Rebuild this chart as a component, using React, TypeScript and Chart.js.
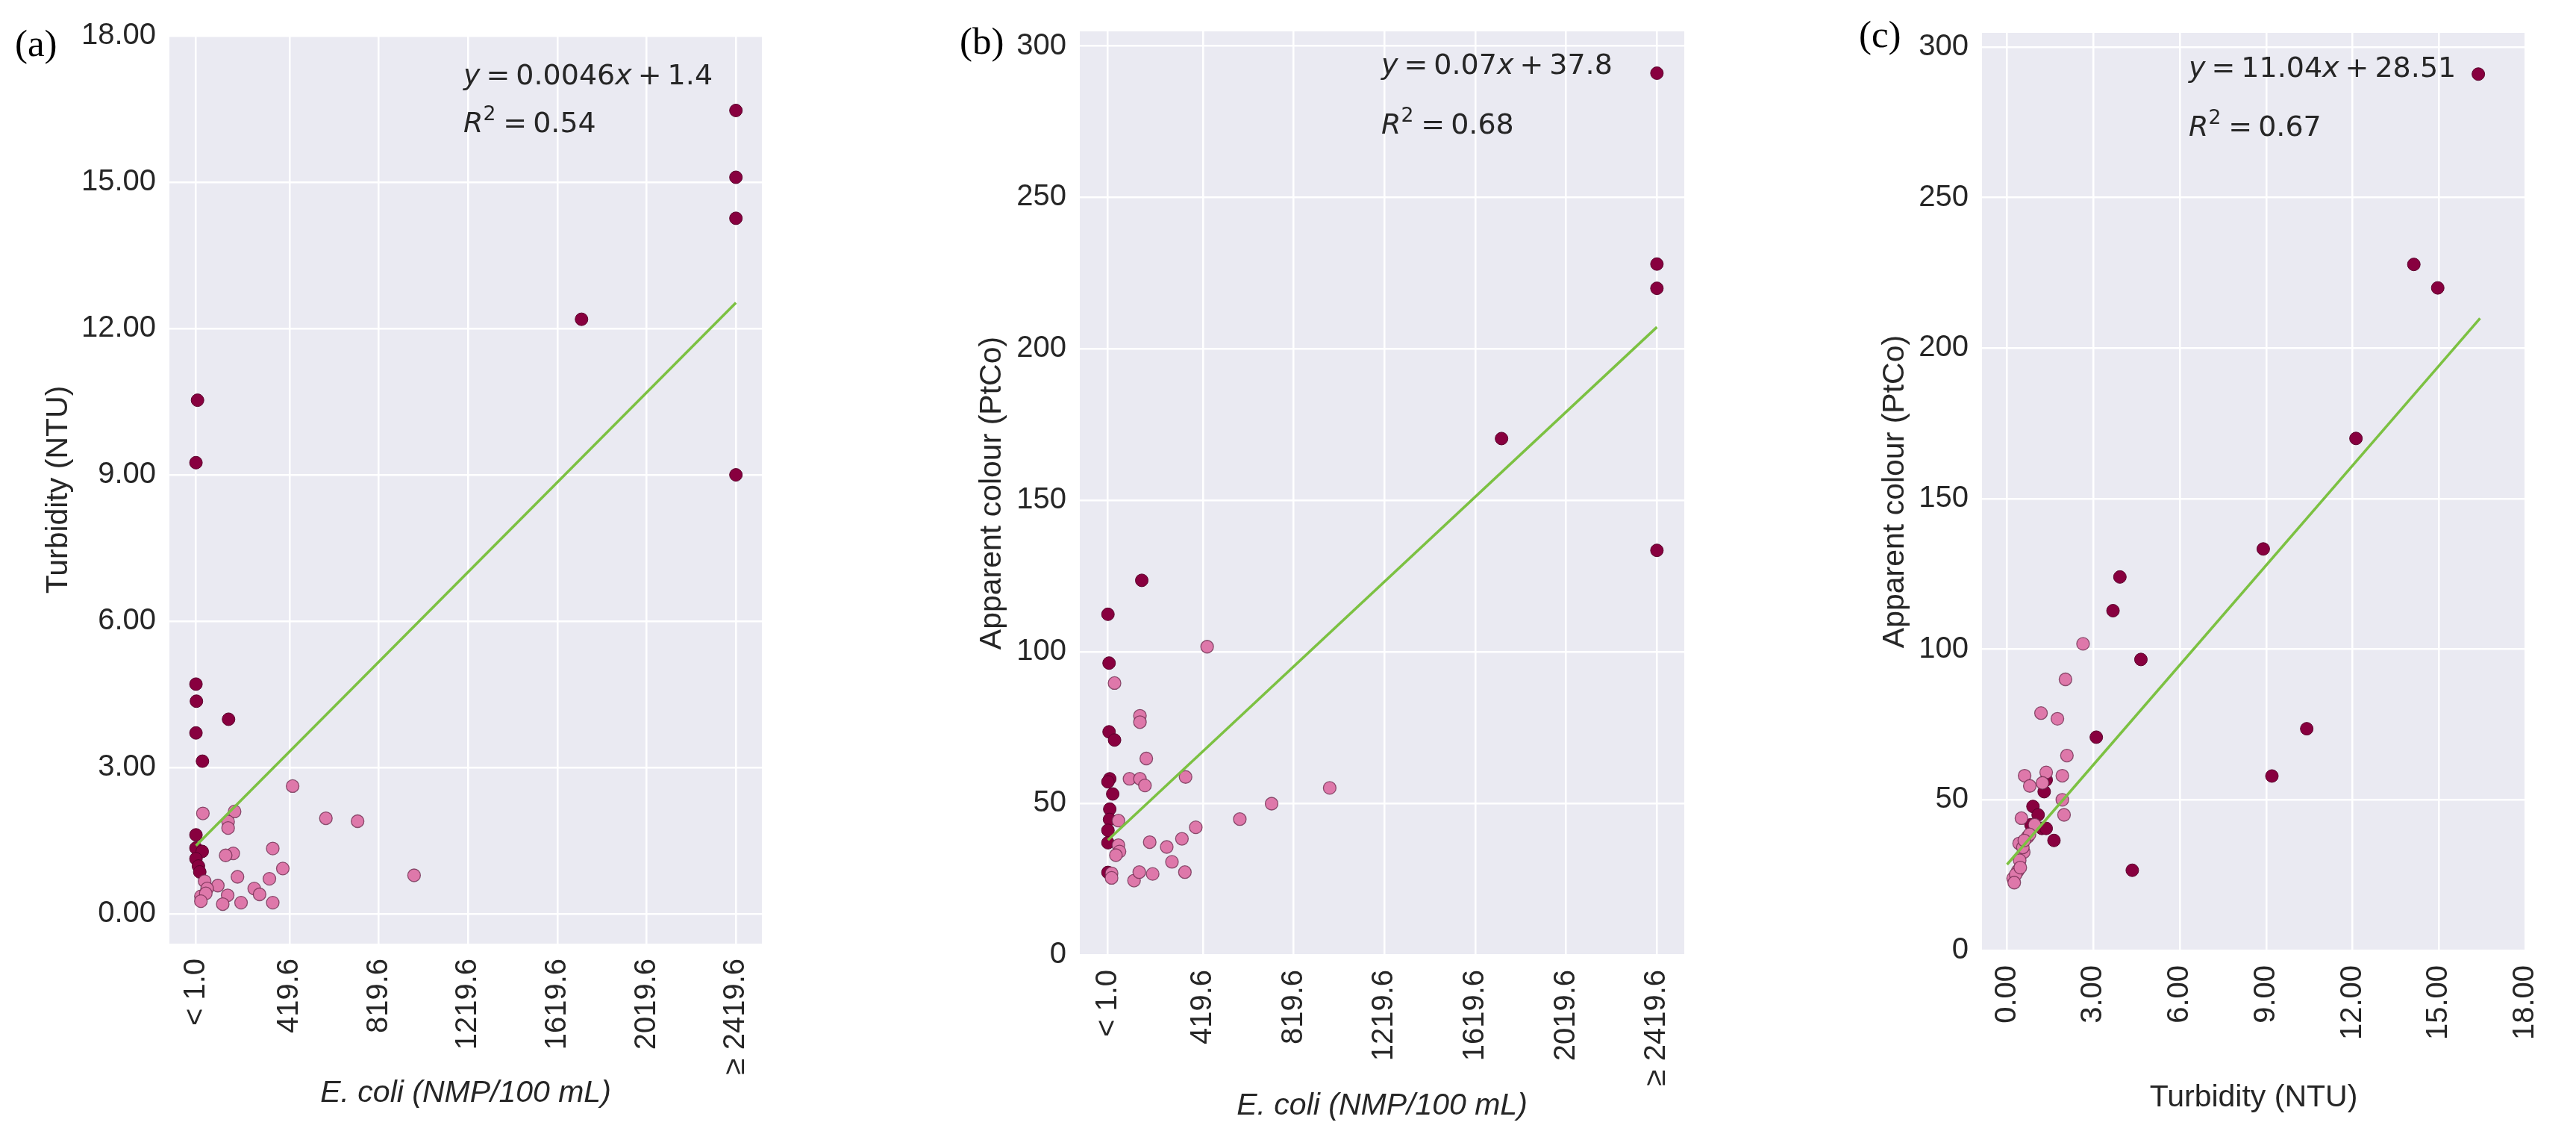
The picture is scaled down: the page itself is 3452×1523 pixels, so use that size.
import React, { useEffect, useRef } from 'react';
import { Chart, registerables } from 'chart.js';

Chart.register(...registerables);

// ---------------- data ----------------
const ECOLI_TICKS = [1, 419.6, 819.6, 1219.6, 1619.6, 2019.6, 2419.6];
const ECOLI_LABELS = ['< 1.0', '419.6', '819.6', '1219.6', '1619.6', '2019.6', '≥ 2419.6'];
const TURB_TICKS = [0, 3, 6, 9, 12, 15, 18];
const TURB_LABELS = ['0.00', '3.00', '6.00', '9.00', '12.00', '15.00', '18.00'];
const COLOUR_TICKS = [0, 50, 100, 150, 200, 250, 300];
const COLOUR_LABELS = ['0', '50', '100', '150', '200', '250', '300'];

// (a) E. coli vs Turbidity
const aDarkX = [8, 1, 1, 3, 1, 30, 147, 1728, 2419.6, 2419.6, 2419.6, 2419.6, 1, 1, 29, 1, 12, 18];
const aDarkY = [10.53, 9.25, 4.71, 4.36, 3.71, 3.13, 3.99, 12.19, 16.47, 15.1, 14.26, 9.0, 1.62, 1.35, 1.28, 1.13, 0.98, 0.86];
const aPinkX = [434, 32, 174, 145, 145, 583, 725, 345, 168, 134, 390, 978, 187, 330, 40, 99, 51, 262, 286, 143, 23, 45, 23, 121, 203, 345];
const aPinkY = [2.62, 2.06, 2.1, 1.89, 1.76, 1.96, 1.9, 1.34, 1.24, 1.2, 0.93, 0.79, 0.76, 0.72, 0.67, 0.58, 0.52, 0.52, 0.4, 0.38, 0.36, 0.42, 0.26, 0.2, 0.23, 0.23];
const aFitX = [1, 2419.6];
const aFitY = [1.4, 12.53];

// (b) E. coli vs Apparent colour
const bDarkX = [150, 1, 6, 6, 30, 9, 1, 22, 9, 8, 1, 1, 1, 1735, 2419.6, 2419.6, 2419.6, 2419.6];
const bDarkY = [123.6, 112.4, 96.3, 73.6, 70.9, 58.1, 57.1, 53.1, 48.1, 44.7, 41.1, 37.0, 27.2, 170.4, 291, 228, 220, 133.5];
const bPinkX = [438, 30, 142, 142, 170, 96, 142, 164, 343, 978, 722, 582, 47, 388, 327, 185, 260, 47, 52, 36, 283, 17, 17, 116, 139, 198, 340];
const bPinkY = [101.7, 89.7, 78.9, 76.8, 64.8, 58.1, 58.1, 55.9, 58.7, 55.1, 49.9, 44.8, 44.3, 42.1, 38.3, 37.2, 35.6, 36.2, 34.1, 32.9, 30.7, 26.9, 25.4, 24.5, 27.3, 26.7, 27.3];
const bFitX = [1, 2419.6];
const bFitY = [37.9, 207.2];

// (c) Turbidity vs Apparent colour
const cDarkX = [16.37, 14.13, 14.96, 12.12, 8.9, 10.41, 9.2, 4.65, 4.35, 3.68, 3.92, 3.1, 1.36, 1.29, 0.9, 1.08, 0.83, 1.21, 1.36, 1.63];
const cDarkY = [291, 227.8, 220, 170, 133.3, 73.6, 57.9, 96.6, 26.6, 112.8, 124, 70.8, 56.6, 52.7, 47.8, 45.0, 41.7, 40.5, 40.5, 36.5];
const cPinkX = [2.64, 2.03, 1.18, 1.75, 2.08, 0.61, 1.36, 1.92, 0.79, 1.23, 1.92, 1.98, 0.5, 0.96, 0.71, 0.42, 0.58, 0.44, 0.375, 0.21, 0.3, 0.46, 0.55, 0.78, 0.6, 0.25];
const cPinkY = [101.8, 90.0, 78.8, 76.9, 64.7, 58.0, 59.1, 58.0, 54.6, 55.6, 50.0, 45.0, 43.9, 41.7, 37.6, 35.5, 32.6, 29.9, 26.4, 23.9, 25.2, 27.5, 34.2, 38.5, 36.5, 22.5];
const cFitX = [0, 16.43];
const cFitY = [28.51, 209.9];

const aEq = { slope: '0.0046', intercept: '1.4', r2: '0.54' };
const bEq = { slope: '0.07', intercept: '37.8', r2: '0.68' };
const cEq = { slope: '11.04', intercept: '28.51', r2: '0.67' };

// ---------------- styling ----------------
const H = 1523;
const TEXT = '#262626';
const SANS = '"Liberation Sans", Arial, sans-serif';
const MATH = '"DejaVu Sans", sans-serif';
const SERIF = '"Liberation Serif", "Times New Roman", serif';
const DARK = '#88003f';
const DARK_EDGE = '#5a002c';
const PINK = '#de78aa';
const PINK_EDGE = 'rgba(105,40,75,0.75)';
const GREEN = '#7cc142';

type Eq = { slope: string; intercept: string; r2: string };

type Panel = {
  left: number;
  width: number;
  area: { l: number; r: number; t: number; b: number };
  xMin: number; xMax: number; yMin: number; yMax: number;
  xTicks: number[]; xLabels: string[]; yTicks: number[]; yLabels: string[];
  darkX: number[]; darkY: number[]; pinkX: number[]; pinkY: number[];
  fitX: number[]; fitY: number[];
  xTitle: string; xItalic: boolean; xTitleY: number;
  yTitle: string; yTitleX: number;
  tag: string; tagX: number; tagY: number;
  eq: Eq; eqX: number; eqY1: number; eqY2: number;
};

const PANELS: Panel[] = [
  {
    left: 0, width: 1200,
    area: { l: 227, r: 1021, t: 48, b: 1264 },
    xMin: -118, xMax: 2536, yMin: -0.61, yMax: 18,
    xTicks: ECOLI_TICKS, xLabels: ECOLI_LABELS, yTicks: TURB_TICKS, yLabels: TURB_LABELS,
    darkX: aDarkX, darkY: aDarkY, pinkX: aPinkX, pinkY: aPinkY, fitX: aFitX, fitY: aFitY,
    xTitle: 'E. coli (NMP/100 mL)', xItalic: true, xTitleY: 1465,
    yTitle: 'Turbidity (NTU)', yTitleX: 79,
    tag: '(a)', tagX: 20, tagY: 75,
    eq: aEq, eqX: 621, eqY1: 113, eqY2: 177,
  },
  {
    left: 1200, width: 1200,
    area: { l: 247, r: 1057, t: 38, b: 1279 },
    xMin: -123, xMax: 2540, yMin: 0, yMax: 304.8,
    xTicks: ECOLI_TICKS, xLabels: ECOLI_LABELS, yTicks: COLOUR_TICKS, yLabels: COLOUR_LABELS,
    darkX: bDarkX, darkY: bDarkY, pinkX: bPinkX, pinkY: bPinkY, fitX: bFitX, fitY: bFitY,
    xTitle: 'E. coli (NMP/100 mL)', xItalic: true, xTitleY: 1482,
    yTitle: 'Apparent colour (PtCo)', yTitleX: 130,
    tag: '(b)', tagX: 86, tagY: 72,
    eq: bEq, eqX: 651, eqY1: 99, eqY2: 179,
  },
  {
    left: 2400, width: 1052,
    area: { l: 256, r: 1015, t: 44, b: 1273 },
    xMin: -0.87, xMax: 18, yMin: 0, yMax: 304.7,
    xTicks: TURB_TICKS, xLabels: TURB_LABELS, yTicks: COLOUR_TICKS, yLabels: COLOUR_LABELS,
    darkX: cDarkX, darkY: cDarkY, pinkX: cPinkX, pinkY: cPinkY, fitX: cFitX, fitY: cFitY,
    xTitle: 'Turbidity (NTU)', xItalic: false, xTitleY: 1471,
    yTitle: 'Apparent colour (PtCo)', yTitleX: 140,
    tag: '(c)', tagX: 91, tagY: 63,
    eq: cEq, eqX: 533, eqY1: 103, eqY2: 182,
  },
];

type Piece = { t?: string; it?: boolean; sup?: boolean; gap?: number };

function drawMath(ctx: CanvasRenderingContext2D, pieces: Piece[], x: number, y: number, size: number) {
  let cx = x;
  ctx.textAlign = 'left';
  ctx.textBaseline = 'alphabetic';
  for (const p of pieces) {
    if (p.gap) { cx += p.gap; continue; }
    const fs = p.sup ? size * 0.7 : size;
    ctx.font = `${p.it ? 'italic ' : ''}${fs}px ${MATH}`;
    ctx.fillText(p.t || '', cx, p.sup ? y - size * 0.42 : y);
    cx += ctx.measureText(p.t || '').width + (p.sup ? 2 : 0);
  }
}

function PanelChart({ p }: { p: Panel }) {
  const ref = useRef<HTMLCanvasElement | null>(null);
  useEffect(() => {
    const canvas = ref.current;
    if (!canvas) return;
    const bgPlugin = {
      id: 'bg' + p.tag,
      beforeDraw(chart: any) {
        const { ctx, chartArea: a } = chart;
        ctx.save();
        ctx.fillStyle = '#eaeaf2';
        ctx.fillRect(a.left, a.top, a.right - a.left, a.bottom - a.top);
        ctx.restore();
      },
      afterDraw(chart: any) {
        const { ctx, chartArea: a } = chart;
        ctx.save();
        ctx.fillStyle = TEXT;
        // x title
        ctx.font = `${p.xItalic ? 'italic ' : ''}41px ${SANS}`;
        ctx.textAlign = 'center';
        ctx.textBaseline = 'middle';
        ctx.fillText(p.xTitle, (a.left + a.right) / 2, p.xTitleY);
        // y title
        ctx.save();
        ctx.translate(p.yTitleX, (a.top + a.bottom) / 2);
        ctx.rotate(-Math.PI / 2);
        ctx.font = `41px ${SANS}`;
        ctx.fillText(p.yTitle, 0, 0);
        ctx.restore();
        // panel tag
        ctx.fillStyle = '#000';
        ctx.font = `51px ${SERIF}`;
        ctx.textAlign = 'left';
        ctx.textBaseline = 'alphabetic';
        ctx.fillText(p.tag, p.tagX, p.tagY);
        // equation
        ctx.fillStyle = TEXT;
        const g = 8;
        drawMath(ctx, [
          { t: 'y', it: true }, { gap: g }, { t: '=' }, { gap: g }, { t: p.eq.slope }, { t: 'x', it: true },
          { gap: g }, { t: '+' }, { gap: g }, { t: p.eq.intercept },
        ], p.eqX, p.eqY1, 38);
        drawMath(ctx, [
          { t: 'R', it: true }, { t: '2', sup: true }, { gap: g }, { t: '=' }, { gap: g }, { t: p.eq.r2 },
        ], p.eqX, p.eqY2, 38);
        ctx.restore();
      },
    };

    const chart = new Chart(canvas, {
      type: 'scatter',
      data: {
        datasets: [
          {
            type: 'line',
            data: p.fitX.map((x, i) => ({ x, y: p.fitY[i] })),
            borderColor: GREEN,
            borderWidth: 3.5,
            pointRadius: 0,
            fill: false,
          } as any,
          {
            data: p.pinkX.map((x, i) => ({ x, y: p.pinkY[i] })),
            backgroundColor: PINK,
            borderColor: PINK_EDGE,
            borderWidth: 1.3,
            pointRadius: 8.5,
          },
          {
            data: p.darkX.map((x, i) => ({ x, y: p.darkY[i] })),
            backgroundColor: DARK,
            borderColor: DARK_EDGE,
            borderWidth: 1,
            pointRadius: 8.5,
          },
        ],
      },
      options: {
        responsive: false,
        animation: false,
        devicePixelRatio: 1,
        events: [],
        layout: { padding: { left: 0, top: p.area.t, right: p.width - p.area.r, bottom: 0 } },
        plugins: { legend: { display: false }, tooltip: { enabled: false } },
        scales: {
          x: {
            type: 'linear',
            position: 'bottom',
            min: p.xMin,
            max: p.xMax,
            afterBuildTicks: (s: any) => { s.ticks = p.xTicks.map((v) => ({ value: v })); },
            afterFit: (s: any) => { s.height = H - p.area.b; },
            ticks: {
              autoSkip: false,
              minRotation: 90,
              maxRotation: 90,
              padding: 20,
              color: TEXT,
              font: { family: SANS, size: 40 },
              callback: (v: any) => p.xLabels[p.xTicks.indexOf(Number(v))],
            },
            grid: { color: '#ffffff', lineWidth: 2.5, drawTicks: false },
            border: { display: false },
          },
          y: {
            type: 'linear',
            min: p.yMin,
            max: p.yMax,
            afterBuildTicks: (s: any) => { s.ticks = p.yTicks.map((v) => ({ value: v })); },
            afterFit: (s: any) => { s.width = p.area.l; },
            ticks: {
              padding: 18,
              color: TEXT,
              font: { family: SANS, size: 40 },
              callback: (v: any) => p.yLabels[p.yTicks.indexOf(Number(v))],
            },
            grid: { color: '#ffffff', lineWidth: 2.5, drawTicks: false },
            border: { display: false },
          },
        },
      },
      plugins: [bgPlugin],
    } as any);
    return () => chart.destroy();
  }, [p]);
  return (
    <canvas
      ref={ref}
      width={p.width}
      height={H}
      style={{ position: 'absolute', left: p.left, top: 0, width: p.width, height: H }}
    />
  );
}

export default function App() {
  return (
    <div style={{ position: 'absolute', left: 0, top: 0, width: 3452, height: H, background: '#ffffff', overflow: 'hidden' }}>
      {PANELS.map((p) => (
        <PanelChart key={p.tag} p={p} />
      ))}
    </div>
  );
}
